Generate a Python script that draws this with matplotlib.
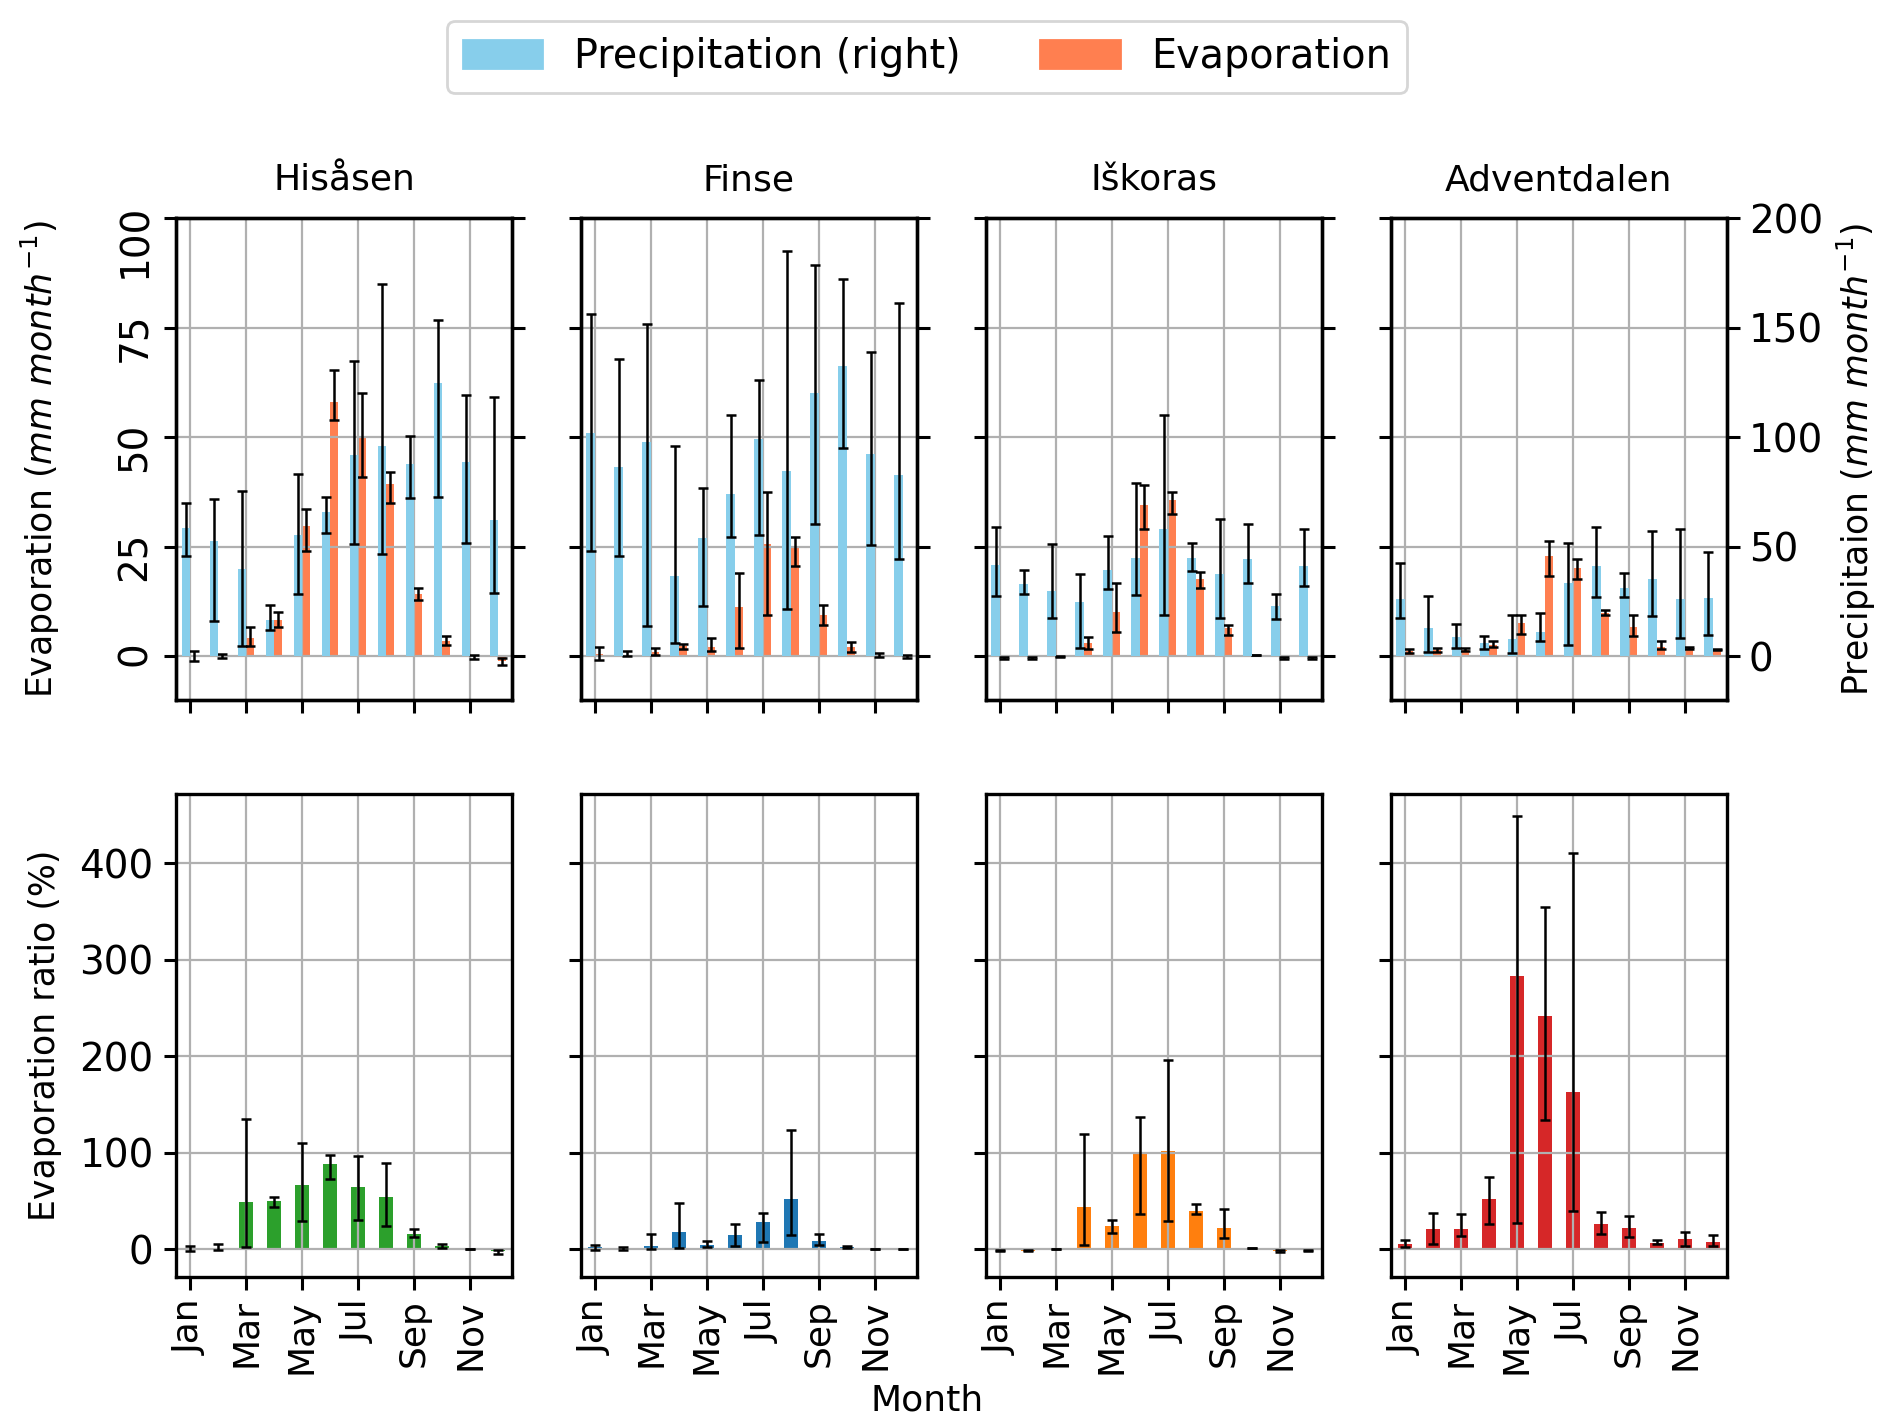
import numpy as np
import matplotlib
matplotlib.use("Agg")
import matplotlib.pyplot as plt
from matplotlib.patches import Patch

plt.rcParams["font.family"] = ["DejaVu Sans"]
plt.rcParams["font.size"] = 12
plt.rcParams["axes.linewidth"] = 1.2
plt.rcParams["xtick.major.width"] = 1.1
plt.rcParams["ytick.major.width"] = 1.1
plt.rcParams["xtick.major.size"] = 4.5
plt.rcParams["ytick.major.size"] = 4.5
plt.rcParams["xtick.labelsize"] = 13
plt.rcParams["ytick.labelsize"] = 14

months = ["Jan", "Feb", "Mar", "Apr", "May", "Jun",
          "Jul", "Aug", "Sep", "Oct", "Nov", "Dec"]
stations = ["Hisåsen", "Finse", "Iškoras", "Adventdalen"]
ratio_colors = ["tab:green", "tab:blue", "tab:orange", "tab:red"]

# precipitation (mm/month, right axis) with lower/upper error bounds
precip = {
    "Hisåsen": [58.7, 52.8, 40.0, 16.7, 55.3, 65.9, 91.9, 96.2, 87.7, 124.8, 88.5, 62.1],
    "Finse": [102.1, 86.5, 97.9, 36.6, 54.1, 74.0, 99.1, 84.6, 120.0, 132.3, 92.3, 82.6],
    "Iškoras": [41.7, 33.2, 29.8, 25.0, 39.5, 45.1, 58.2, 44.8, 37.4, 44.3, 23.0, 41.4],
    "Adventdalen": [26.4, 13.1, 8.9, 6.0, 7.7, 11.1, 33.5, 41.2, 31.0, 35.4, 26.4, 26.7],
}
precip_lo = {
    "Hisåsen": [46.0, 16.2, 4.6, 11.9, 28.4, 56.2, 51.4, 46.8, 72.3, 72.7, 51.9, 28.9],
    "Finse": [48.0, 46.0, 14.0, 6.0, 23.0, 54.5, 55.3, 21.8, 60.4, 95.0, 50.9, 44.6],
    "Iškoras": [27.6, 28.6, 17.4, 3.7, 30.6, 28.1, 18.7, 39.1, 17.5, 33.7, 17.0, 32.0],
    "Adventdalen": [17.5, 2.0, 3.7, 3.4, 1.7, 6.8, 5.1, 27.2, 27.2, 18.2, 8.2, 9.9],
}
precip_hi = {
    "Hisåsen": [69.8, 71.8, 75.7, 23.3, 83.4, 72.7, 134.8, 169.9, 100.4, 153.5, 119.1, 118.3],
    "Finse": [156.3, 135.8, 151.8, 96.2, 76.9, 110.1, 126.1, 185.0, 178.6, 172.4, 139.1, 161.2],
    "Iškoras": [59.2, 39.5, 51.1, 37.8, 55.0, 79.1, 110.3, 51.9, 62.6, 60.3, 28.6, 58.0],
    "Adventdalen": [42.6, 27.6, 14.8, 9.4, 18.7, 19.6, 51.9, 59.2, 38.0, 57.4, 58.2, 47.7],
}

# evaporation (mm/month, left axis)
evap = {
    "Hisåsen": [0.1, 0.2, 4.3, 8.3, 29.8, 58.1, 50.0, 39.3, 14.2, 3.4, -0.1, -1.1],
    "Finse": [0.5, 0.4, 1.1, 2.3, 2.1, 11.3, 25.7, 24.9, 9.4, 2.1, 0.4, 0.1],
    "Iškoras": [-0.4, -0.4, 0.0, 3.0, 10.2, 34.6, 35.6, 17.7, 6.4, 0.3, -0.3, -0.3],
    "Adventdalen": [1.3, 1.4, 1.4, 2.6, 7.7, 23.0, 20.2, 10.0, 6.6, 2.1, 1.9, 1.6],
}
evap_lo = {
    "Hisåsen": [-1.1, -0.4, 2.3, 6.6, 24.1, 53.9, 40.9, 35.1, 12.9, 2.6, -0.6, -2.0],
    "Finse": [-0.9, 0.0, 0.4, 1.7, 1.3, 2.0, 9.4, 20.7, 7.2, 1.1, -0.1, -0.3],
    "Iškoras": [-0.6, -0.6, -0.1, 1.7, 5.5, 29.1, 32.5, 15.7, 4.9, 0.2, -0.5, -0.5],
    "Adventdalen": [0.8, 0.9, 1.3, 2.1, 5.1, 18.3, 17.7, 9.4, 4.7, 1.7, 1.7, 1.5],
}
evap_hi = {
    "Hisåsen": [1.3, 0.6, 6.6, 10.2, 33.6, 65.3, 60.0, 42.0, 15.5, 4.7, 0.4, -0.4],
    "Finse": [2.1, 1.2, 2.0, 2.9, 4.3, 19.1, 37.4, 27.2, 11.7, 3.3, 0.8, 0.4],
    "Iškoras": [-0.2, -0.2, 0.1, 4.4, 16.8, 39.0, 37.6, 19.3, 7.2, 0.4, -0.1, -0.1],
    "Adventdalen": [1.7, 2.0, 1.8, 3.4, 9.4, 26.4, 22.3, 10.5, 9.5, 3.4, 2.1, 1.7],
}

# evaporation ratio (%)
ratio = {
    "Hisåsen": [0.5, 1.4, 48.6, 50.0, 66.7, 88.2, 63.9, 53.5, 15.6, 2.8, 0.0, -2.1],
    "Finse": [1.7, 1.0, 3.5, 17.7, 4.2, 14.2, 27.8, 51.7, 8.7, 1.7, 0.2, 0.3],
    "Iškoras": [-1.4, -1.7, 0.3, 43.4, 24.3, 98.6, 101.4, 39.6, 22.2, 1.0, -2.1, -1.4],
    "Adventdalen": [5.6, 20.8, 21.2, 52.1, 283.0, 241.3, 163.2, 26.4, 21.9, 6.6, 10.4, 7.6],
}
ratio_lo = {
    "Hisåsen": [-2.0, -1.4, 2.4, 43.4, 29.2, 72.9, 30.2, 24.0, 12.8, 1.0, -0.3, -4.9],
    "Finse": [-0.7, -0.7, 0.0, 1.4, 1.7, 3.1, 7.6, 14.2, 4.2, 0.7, 0.0, 0.1],
    "Iškoras": [-1.8, -2.1, 0.1, 4.2, 16.7, 36.5, 29.2, 36.1, 11.8, 0.7, -2.8, -1.8],
    "Adventdalen": [2.1, 5.6, 13.5, 25.7, 27.4, 134.0, 39.9, 15.6, 12.2, 4.9, 2.8, 2.8],
}
ratio_hi = {
    "Hisåsen": [3.0, 4.9, 135.0, 54.2, 110.0, 97.9, 96.2, 88.9, 21.2, 5.6, 0.3, -1.0],
    "Finse": [4.5, 2.4, 15.3, 47.6, 8.3, 25.7, 37.8, 123.6, 15.3, 2.8, 0.4, 0.5],
    "Iškoras": [-1.0, -1.3, 0.5, 118.8, 30.2, 136.8, 195.8, 46.5, 41.0, 1.3, -1.4, -1.0],
    "Adventdalen": [9.0, 37.5, 36.1, 74.3, 449.0, 354.5, 411.1, 38.2, 34.7, 9.7, 17.4, 14.2],
}


def yerr(vals, lo, hi):
    v = np.array(vals)
    return [v - np.array(lo), np.array(hi) - v]


x = np.arange(12)
err_kw = dict(ecolor="black", elinewidth=0.9, capsize=1.7, capthick=0.9)

fig = plt.figure(figsize=(9.46, 7.13), dpi=200)
lefts = [0.093, 0.307, 0.521, 0.735]
w = 0.1776

for i, st in enumerate(stations):
    # top row: evaporation (left) + precipitation (right)
    ax = fig.add_axes([lefts[i], 0.509, w, 0.338])
    ax.bar(x + 0.15, evap[st], width=0.3, color="coral",
           yerr=yerr(evap[st], evap_lo[st], evap_hi[st]), error_kw=err_kw)
    ax.set_ylim(-10, 100)
    ax.set_yticks([0, 25, 50, 75, 100])
    ax.set_xlim(-0.5, 11.5)
    ax.set_xticks(x[::2])
    ax.set_xticklabels([])
    ax.grid(True)
    ax.set_title(st, fontsize=13, pad=10)
    if i == 0:
        ax.tick_params(axis="y", labelrotation=90)
        ax.set_ylabel(r"Evaporation ($mm\ month^{-1}$)", fontsize=12.5)
        ax.yaxis.set_label_coords(-0.34, 0.5)
    else:
        ax.set_yticklabels([])

    ax2 = ax.twinx()
    ax2.bar(x - 0.15, precip[st], width=0.3, color="skyblue",
            yerr=yerr(precip[st], precip_lo[st], precip_hi[st]), error_kw=err_kw)
    ax2.set_ylim(-20, 200)
    ax2.set_yticks([0, 50, 100, 150, 200])
    if i == 3:
        ax2.set_ylabel(r"Precipitaion ($mm\ month^{-1}$)", fontsize=12.5)
    else:
        ax2.set_yticklabels([])

    # bottom row: evaporation ratio
    axb = fig.add_axes([lefts[i], 0.1045, w, 0.3387])
    axb.bar(x, ratio[st], width=0.5, color=ratio_colors[i],
            yerr=yerr(ratio[st], ratio_lo[st], ratio_hi[st]), error_kw=err_kw)
    axb.set_xlim(-0.5, 11.5)
    axb.set_ylim(-29, 472)
    axb.set_yticks([0, 100, 200, 300, 400])
    axb.set_xticks(x[::2])
    axb.set_xticklabels(months[::2], rotation=90)
    axb.grid(True)
    if i == 0:
        axb.set_ylabel("Evaporation ratio (%)", fontsize=12.5)
        axb.yaxis.set_label_coords(-0.34, 0.5)
    else:
        axb.set_yticklabels([])

fig.text(0.49, 0.006, "Month", ha="center", va="bottom", fontsize=13)

handles = [Patch(color="skyblue", label="Precipitation (right)"),
           Patch(color="coral", label="Evaporation")]
fig.legend(handles=handles, loc="center", bbox_to_anchor=(0.49, 0.96),
           ncol=2, fontsize=14.3, columnspacing=2.0)

fig.savefig("out.png", dpi=200)
